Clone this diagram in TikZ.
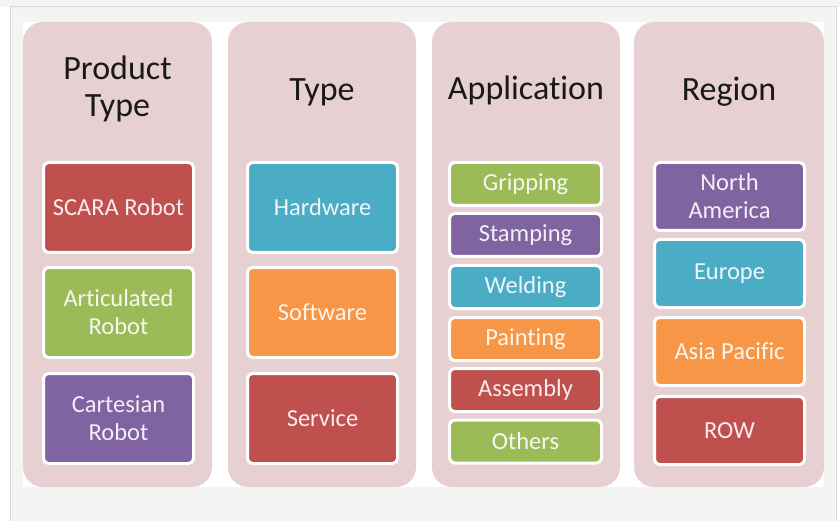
\documentclass[tikz,border=0pt]{standalone}
\usepackage{fontspec}
\setmainfont{Carlito}[Ligatures=NoCommon]
\definecolor{cred}{HTML}{C0504D}
\definecolor{cgreen}{HTML}{9BBB59}
\definecolor{cpurple}{HTML}{8064A2}
\definecolor{ccyan}{HTML}{4BACC6}
\definecolor{corange}{HTML}{F79646}
\definecolor{colfill}{HTML}{E6D0D2}
\definecolor{bggray}{HTML}{F4F4F4}
\definecolor{edgegray}{HTML}{D8D8D8}
\begin{document}
\begin{tikzpicture}[x=1pt,y=-1pt,
  column/.style={fill=colfill, rounded corners=20pt},
  title/.style={font=\fontsize{34}{37}\selectfont, text=black!90, align=center, anchor=base, inner sep=0pt},
  item/.style={draw=white, line width=3pt, rounded corners=5pt, align=center,
    font=\fontsize{24.5}{28}\selectfont, inner sep=0pt},
  big/.style={item, minimum width=150pt, minimum height=90pt},
  small/.style={item, minimum width=152pt, minimum height=43pt},
  mid/.style={item, minimum width=150pt, minimum height=68pt},
  red/.style={fill=cred, text=white!90!cred},
  green/.style={fill=cgreen, text=white!90!cgreen},
  purple/.style={fill=cpurple, text=white!90!cpurple},
  cyan/.style={fill=ccyan, text=white!90!ccyan},
  orange/.style={fill=corange, text=white!90!corange}]
\useasboundingbox (0,0) rectangle (840,521);
% background frame
\fill[white] (0,0) rectangle (840,521);
\fill[bggray] (0,0) rectangle (840,7);
\fill[bggray] (10,7) rectangle (836,521);
\draw[edgegray, line width=1pt] (10,521) -- (10,7) -- (836,7) -- (836,521);
\fill[white] (23,22) rectangle (824,487);
% columns
\fill[column] (23,22) rectangle (212,487);
\fill[column] (228,22) rectangle (416,487);
\fill[column] (432,22) rectangle (620,487);
\fill[column] (634,22) rectangle (824,487);
% titles
\node[title] (t1) at (117.5,117) {Product\\Type};
\node[title] (t2) at (322,101) {Type};
\node[title] (t3) at (526,100) {Application};
\node[title] (t4) at (729,101) {Region};
% column 1
\node[big, red] (scara) at (118.5,207.5) {SCARA Robot};
\node[big, green] (artic) at (118.5,312.5) {Articulated\\Robot};
\node[big, purple] (cart) at (118.5,418.5) {Cartesian\\Robot};
% column 2
\node[big, cyan] (hard) at (322.5,207.5) {Hardware};
\node[big, orange] (soft) at (322.5,312.5) {Software};
\node[big, red] (serv) at (322.5,418.5) {Service};
% column 3
\node[small, green] (grip) at (525.5,184) {Gripping};
\node[small, purple] (stamp) at (525.5,235) {Stamping};
\node[small, cyan] (weld) at (525.5,287) {Welding};
\node[small, orange] (paint) at (525.5,339) {Painting};
\node[small, red] (assem) at (525.5,390) {Assembly};
\node[small, green] (others) at (525.5,441.5) {Others};
% column 4
\node[mid, purple] (na) at (729.5,196.5) {North\\America};
\node[mid, cyan] (eu) at (729.5,273.5) {Europe};
\node[mid, orange] (ap) at (729.5,351.5) {Asia Pacific};
\node[mid, red] (row) at (729.5,430.5) {ROW};
\end{tikzpicture}
\end{document}
